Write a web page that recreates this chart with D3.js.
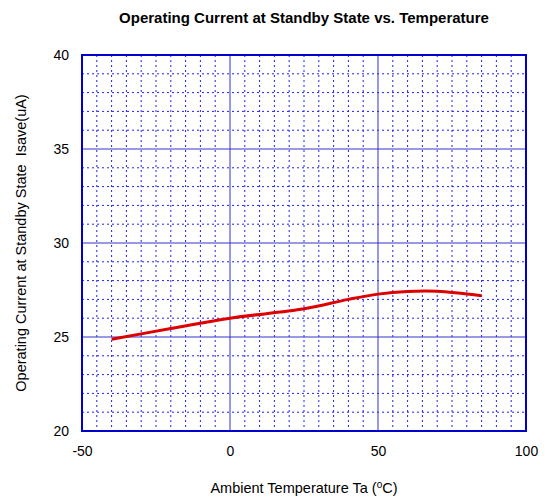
<!DOCTYPE html>
<html>
<head>
<meta charset="utf-8">
<script src="https://cdn.jsdelivr.net/npm/d3@7"></script>
<style>
  body { margin: 0; background: #fff; }
  text { font-family: "Liberation Sans", Arial, sans-serif; fill: #000; }
</style>
</head>
<body>
<div class="chart"></div>
<script>
var svgWidth = 548;
var svgHeight = 499;

var margin = { top: 55, right: 22, bottom: 68, left: 82 };

var width = svgWidth - margin.left - margin.right;
var height = svgHeight - margin.top - margin.bottom;

// data
var temps = [-40, -20, 0, 25, 40, 50, 60, 70, 85];
var currents = [24.88, 25.45, 26.0, 26.5, 27.0, 27.28, 27.42, 27.43, 27.2];

var xTicks = [-50, 0, 50, 100];
var yTicks = [20, 25, 30, 35, 40];
var xMinor = d3.range(-50, 101, 5);
var yMinor = d3.range(20, 40.01, 1);

var svg = d3.select(".chart")
  .append("svg")
  .attr("width", svgWidth)
  .attr("height", svgHeight);

var chartGroup = svg.append("g")
  .attr("transform", `translate(${margin.left}, ${margin.top})`);

var x = d3.scaleLinear().domain([-50, 100]).range([0, width]);
var y = d3.scaleLinear().domain([20, 40]).range([height, 0]);

// minor dotted grid
chartGroup.selectAll(".vminor")
  .data(xMinor.filter(d => xTicks.indexOf(d) < 0))
  .enter().append("line")
  .attr("x1", d => x(d)).attr("x2", d => x(d))
  .attr("y1", 0).attr("y2", height)
  .attr("stroke", "#2222ee")
  .attr("stroke-width", 1)
  .attr("stroke-dasharray", "2,3");

chartGroup.selectAll(".hminor")
  .data(yMinor.filter(d => yTicks.indexOf(d) < 0))
  .enter().append("line")
  .attr("x1", 0).attr("x2", width)
  .attr("y1", d => y(d)).attr("y2", d => y(d))
  .attr("stroke", "#2222ee")
  .attr("stroke-width", 1)
  .attr("stroke-dasharray", "2,3");

// major solid grid
chartGroup.selectAll(".vmajor")
  .data(xTicks)
  .enter().append("line")
  .attr("x1", d => x(d)).attr("x2", d => x(d))
  .attr("y1", 0).attr("y2", height)
  .attr("stroke", "#3333cc")
  .attr("stroke-width", 1);

chartGroup.selectAll(".hmajor")
  .data(yTicks)
  .enter().append("line")
  .attr("x1", 0).attr("x2", width)
  .attr("y1", d => y(d)).attr("y2", d => y(d))
  .attr("stroke", "#3333cc")
  .attr("stroke-width", 1);

// frame
chartGroup.append("rect")
  .attr("x", 0).attr("y", 0)
  .attr("width", width).attr("height", height)
  .attr("fill", "none")
  .attr("stroke", "#0000cc")
  .attr("stroke-width", 2);

// axes (labels only), plain hyphen for negatives
var bottomAxis = d3.axisBottom(x).tickValues(xTicks).tickSize(0).tickPadding(15)
  .tickFormat(d => String(d));
var leftAxis = d3.axisLeft(y).tickValues(yTicks).tickSize(0).tickPadding(13)
  .tickFormat(d => String(d));

var xAxis = chartGroup.append("g")
  .attr("transform", `translate(0, ${height})`)
  .call(bottomAxis);
var yAxis = chartGroup.append("g").call(leftAxis);

[xAxis, yAxis].forEach(function (a) {
  a.select(".domain").remove();
  a.selectAll("text")
    .style("font-family", "'Liberation Sans', Arial, sans-serif")
    .style("font-size", "14px")
    .attr("fill", "#000");
});

// the curve
var line = d3.line()
  .x((d, i) => x(temps[i]))
  .y(d => y(d))
  .curve(d3.curveCatmullRom);

chartGroup.append("path")
  .datum(currents)
  .attr("d", line)
  .attr("fill", "none")
  .attr("stroke", "#dd0000")
  .attr("stroke-width", 3);

// title
svg.append("text")
  .attr("x", margin.left + width / 2)
  .attr("y", 23)
  .attr("text-anchor", "middle")
  .style("font-size", "15px")
  .style("font-weight", "bold")
  .text("Operating Current at Standby State vs. Temperature");

// x label
var xl = svg.append("text")
  .attr("x", margin.left + width / 2)
  .attr("y", 493)
  .attr("text-anchor", "middle")
  .style("font-size", "14.5px");
xl.append("tspan").text("Ambient Temperature Ta (");
xl.append("tspan").attr("dy", -5).style("font-size", "10px").text("o");
xl.append("tspan").attr("dy", 5).text("C)");

// y label
svg.append("text")
  .attr("transform", `translate(26, ${margin.top + height / 2}) rotate(-90)`)
  .attr("text-anchor", "middle")
  .style("font-size", "14.5px")
  .style("white-space", "pre")
  .text("Operating Current at Standby State  Isave(uA)");
</script>
</body>
</html>
